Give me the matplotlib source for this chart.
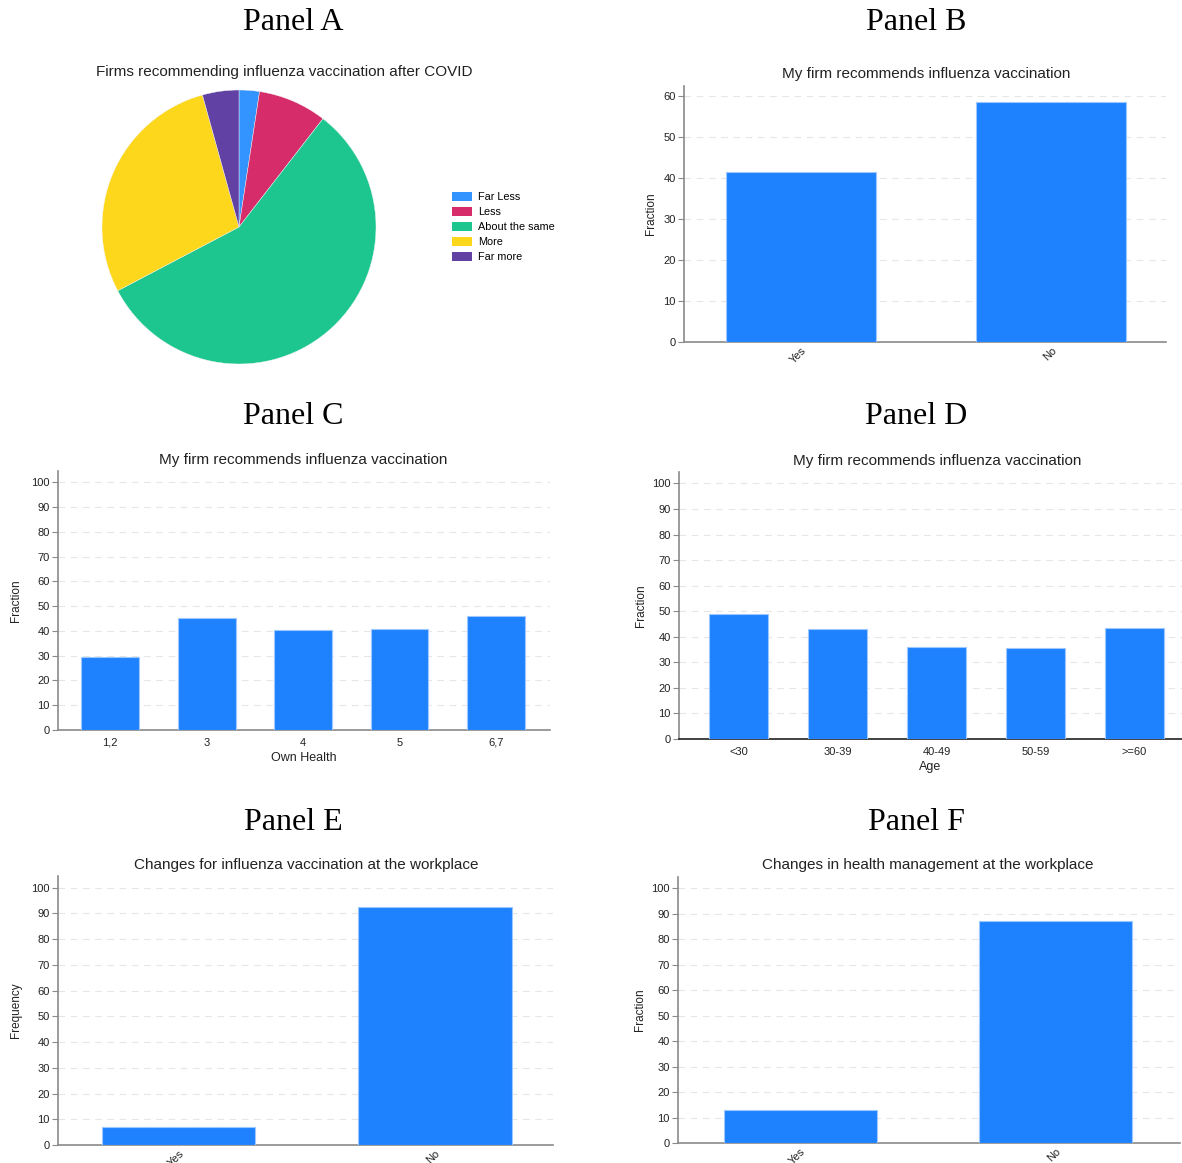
import matplotlib
matplotlib.use("Agg")
import matplotlib.pyplot as plt
from matplotlib.patches import Patch

# ---- data ----
pie_labels = ["Far Less", "Less", "About the same", "More", "Far more"]
pie_shares = [2.4, 8.1, 56.8, 28.4, 4.3]
pie_colors = ["#3393ff", "#d62c69", "#1dc68e", "#fdd71c", "#6141a3"]

yes_no = ["Yes", "No"]
recommend_vals = [41.5, 58.5]

health_cats = ["1,2", "3", "4", "5", "6,7"]
health_vals = [29.5, 45.2, 40.3, 40.7, 46.0]

age_cats = ["<30", "30-39", "40-49", "50-59", ">=60"]
age_vals = [49.0, 43.1, 36.1, 35.7, 43.5]

flu_change_vals = [7.0, 92.6]
health_mgmt_vals = [12.9, 87.1]

BAR = "#1e82ff"
EDGE = "#9cc8ff"
TXT = "#222222"
SANS = "Liberation Sans"
SERIF = "Liberation Serif"

W, H = 1182, 1163
fig = plt.figure(figsize=(W / 100, H / 100), dpi=100)
fig.patch.set_facecolor("white")


def px_axes(left, top, right, bottom):
    return fig.add_axes([left / W, 1 - bottom / H, (right - left) / W, (bottom - top) / H])


def ftext(x, y, s, **kw):
    fig.text(x / W, 1 - y / H, s, **kw)


# panel headings
for name, x, y in [("Panel A", 293, 22), ("Panel B", 916, 22),
                   ("Panel C", 293, 416), ("Panel D", 916, 416),
                   ("Panel E", 293, 822), ("Panel F", 916, 822)]:
    ftext(x, y, name, family=SERIF, fontsize=23, ha="center", va="center", color="black")

# ---- Panel A: pie ----
axp = px_axes(102, 90, 376, 364)
axp.pie(pie_shares, colors=pie_colors, startangle=90, counterclock=False,
        wedgeprops=dict(linewidth=0.3, edgecolor="#f4f4f4"))
axp.set_xlim(-1, 1)
axp.set_ylim(-1, 1)
axp.set_aspect("equal")
ftext(284, 72, "Firms recommending influenza vaccination after COVID",
      family=SANS, fontsize=11, ha="center", va="center", color=TXT)
handles = [Patch(facecolor=c, edgecolor="none") for c in pie_colors]
fig.legend(handles, pie_labels, loc="upper left", bbox_to_anchor=(447 / W, 1 - 187 / H),
           frameon=False, prop=dict(family=SANS, size=7.8), handlelength=1.8,
           handleheight=0.85, handletextpad=0.55, labelspacing=0.45, borderpad=0)


def bar_panel(box, cats, vals, xlim, title, title_xy, ylabel, ylab_x, ticks,
              rotate=False, xlabel=None, bottom_color="#8a8a8a"):
    ax = px_axes(*box)
    x = range(len(cats))
    ax.bar(x, vals, width=0.6, color=BAR, edgecolor=EDGE, linewidth=0.8, zorder=3)
    ax.set_xlim(*xlim)
    ax.set_ylim(0, ticks[-1] * 1.045 if ticks[-1] == 100 else 62.5)
    ax.set_yticks(ticks)
    ax.set_yticklabels([str(t) for t in ticks], family=SANS, fontsize=8, color=TXT)
    ax.tick_params(axis="y", length=4, width=0.8, color="#8a8a8a", pad=2)
    ax.set_xticks(list(x))
    if rotate:
        ax.tick_params(axis="x", length=0, pad=2.5)
        ax.set_xticklabels(cats, rotation=45, ha="right", va="top", rotation_mode="anchor",
                           family=SANS, fontsize=8, color=TXT)
    else:
        ax.tick_params(axis="x", length=0, pad=5.5)
        ax.set_xticklabels(cats, family=SANS, fontsize=8, color=TXT)
    ax.grid(axis="y", color="#e6e6e6", linestyle=(0, (6, 5)), linewidth=0.8, zorder=0)
    for s in ["top", "right"]:
        ax.spines[s].set_visible(False)
    ax.spines["left"].set_color("#8a8a8a")
    ax.spines["left"].set_linewidth(1.2)
    ax.spines["bottom"].set_color(bottom_color)
    ax.spines["bottom"].set_linewidth(1.2)
    ax.set_axisbelow(True)
    ftext(title_xy[0], title_xy[1], title, family=SANS, fontsize=11, ha="center",
          va="center", color=TXT)
    ycen = (box[1] + box[3]) / 2
    ftext(ylab_x, ycen, ylabel, family=SANS, fontsize=8.5, rotation=90, ha="center",
          va="center", color=TXT)
    if xlabel:
        ax.set_xlabel(xlabel, family=SANS, fontsize=9, color=TXT, labelpad=3)
    return ax


ticks60 = [0, 10, 20, 30, 40, 50, 60]
ticks100 = list(range(0, 101, 10))

bar_panel((684, 86, 1166, 342), yes_no, recommend_vals, (-0.47, 1.46),
          "My firm recommends influenza vaccination", (926, 74), "Fraction", 651,
          ticks60, rotate=True)

bar_panel((58, 471, 550, 730), health_cats, health_vals, (-0.54, 4.56),
          "My firm recommends influenza vaccination", (303, 460), "Fraction", 16,
          ticks100, xlabel="Own Health")

bar_panel((679, 472, 1182, 739), age_cats, age_vals, (-0.6, 4.48),
          "My firm recommends influenza vaccination", (937, 461), "Fraction", 641,
          ticks100, xlabel="Age", bottom_color="#222222")

bar_panel((58, 876, 553, 1145), yes_no, flu_change_vals, (-0.47, 1.46),
          "Changes for influenza vaccination at the workplace", (306, 865), "Frequency", 16,
          ticks100, rotate=True)

bar_panel((678, 877, 1180, 1143), yes_no, health_mgmt_vals, (-0.48, 1.49),
          "Changes in health management at the workplace", (928, 865), "Fraction", 640,
          ticks100, rotate=True)

fig.savefig("out.png", dpi=100, facecolor="white")
